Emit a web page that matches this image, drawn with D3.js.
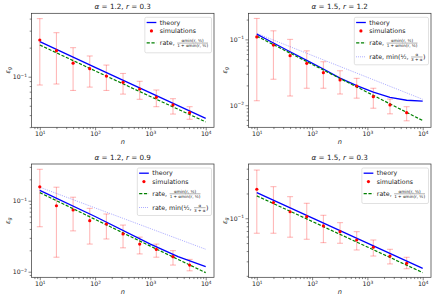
<!DOCTYPE html>
<html>
<head>
<meta charset="utf-8">
<script src="https://cdn.jsdelivr.net/npm/d3@7"></script>
<style>
    body { margin: 0; background: #fff; }
    svg text { font-family: "DejaVu Sans", sans-serif; fill: #222; white-space: pre; }
</style>
</head>
<body>
<div id="chart"></div>
<script>
// sample sizes of the simulations and the points used for the straight lines
const nSim = [10, 20, 40, 80, 160, 320, 640, 1280, 2560, 5120];
const nLine = [10, 100, 1000, 10000];
const nTheory2 = [10, 20, 40, 80, 160, 320, 640, 1280, 2560, 5120, 10000];
const nTheory3 = [10, 100, 1000, 3162, 10000];

// alpha = 1.2, r = 0.3
const p1Sim = [0.240, 0.186, 0.138, 0.121, 0.1016, 0.0875, 0.0746, 0.0612, 0.051, 0.0424];
const p1Lo = [0.082, 0.084, 0.072, 0.078, 0.072, 0.066, 0.0583, 0.0489, 0.041, 0.0362];
const p1Hi = [0.40, 0.286, 0.20, 0.164, 0.132, 0.108, 0.0896, 0.0728, 0.0592, 0.0489];
const p1Theory = [0.231, 0.125, 0.068, 0.037];
const p1Rate = [0.213, 0.115, 0.0623, 0.034];

// alpha = 1.5, r = 1.2
const p2Sim = [0.109, 0.082, 0.0565, 0.0433, 0.0312, 0.0242, 0.0196, 0.0135, 0.0101, 0.0077];
const p2Lo = [0.0117, 0.0248, 0.0138, 0.0181, 0.0181, 0.0148, 0.0128, 0.009, 0.0074, 0.0058];
const p2Hi = [0.208, 0.135, 0.100, 0.067, 0.0458, 0.0334, 0.0256, 0.0181, 0.0124, 0.0095];
const p2Theory = [0.12, 0.088, 0.065, 0.048, 0.0355, 0.0258, 0.0198, 0.0158, 0.0132, 0.0119, 0.0115];
const p2Rate = [0.112, 0.0418, 0.0157, 0.00585];
const p2MinRate = [0.123, 0.0571, 0.0265, 0.0123];

// alpha = 1.2, r = 0.9
const p3Sim = [0.157, 0.085, 0.074, 0.0523, 0.047, 0.034, 0.0245, 0.0206, 0.0163, 0.0124];
const p3Lo = [0.043, 0.016, 0.0376, 0.0245, 0.0289, 0.0217, 0.0178, 0.016, 0.0124, 0.0103];
const p3Hi = [0.277, 0.155, 0.112, 0.078, 0.065, 0.0454, 0.0307, 0.0245, 0.0198, 0.0149];
const p3Theory = [0.14, 0.06, 0.0245, 0.0163, 0.0118];
const p3Rate = [0.13, 0.0546, 0.0229, 0.0097];
const p3MinRate = [0.155, 0.0792, 0.0405, 0.0207];

// alpha = 1.5, r = 0.3
const p4Sim = [0.225, 0.155, 0.12, 0.1045, 0.0807, 0.0688, 0.0545, 0.0445, 0.0348, 0.0284];
const p4Lo = [0.0658, 0.0658, 0.0589, 0.0556, 0.0506, 0.0497, 0.0412, 0.0348, 0.0279, 0.0244];
const p4Hi = [0.385, 0.242, 0.183, 0.152, 0.1087, 0.0885, 0.0688, 0.0545, 0.042, 0.0336];
const p4Theory = [0.205, 0.101, 0.0499, 0.0247];
const p4Rate = [0.187, 0.0916, 0.0448, 0.0219];

const panels = [
    { alpha: "1.2", r: "0.3", x0: 31.5, x1: 214, y0: 13.3, y1: 127.3, yDom: [0.0299, 0.454],
      sim: p1Sim, lo: p1Lo, hi: p1Hi, thN: nLine, theory: p1Theory, rate: p1Rate, minRate: null },
    { alpha: "1.5", r: "1.2", x0: 248.5, x1: 431, y0: 13.3, y1: 127.3, yDom: [0.00462, 0.249],
      sim: p2Sim, lo: p2Lo, hi: p2Hi, thN: nTheory2, theory: p2Theory, rate: p2Rate, minRate: p2MinRate },
    { alpha: "1.2", r: "0.9", x0: 31.5, x1: 214, y0: 164, y1: 277.3, yDom: [0.00834, 0.329],
      sim: p3Sim, lo: p3Lo, hi: p3Hi, thN: nTheory3, theory: p3Theory, rate: p3Rate, minRate: p3MinRate },
    { alpha: "1.5", r: "0.3", x0: 248.5, x1: 431, y0: 164, y1: 277.3, yDom: [0.0192, 0.456],
      sim: p4Sim, lo: p4Lo, hi: p4Hi, thN: nLine, theory: p4Theory, rate: p4Rate, minRate: null }
];

const W = 435, H = 302;
const svg = d3.select("#chart").append("svg").attr("width", W).attr("height", H);

// write text made of pieces (plain, italic, small stacked fractions); returns width
function drawRich(g, x, y, parts, fs) {
    let cx = x;
    parts.forEach(p => {
        if (p.frac) {
            let fz = fs * 0.66;
            let axisY = y - fs * 0.32;
            let num = g.append("text").attr("y", axisY - 0.9).attr("font-size", fz).text(p.frac[0]);
            let den = g.append("text").attr("y", axisY + fz * 0.95).attr("font-size", fz).text(p.frac[1]);
            let w = Math.max(num.node().getComputedTextLength(), den.node().getComputedTextLength());
            num.attr("x", cx + 0.5 + w / 2).attr("text-anchor", "middle");
            den.attr("x", cx + 0.5 + w / 2).attr("text-anchor", "middle");
            g.append("line")
                .attr("x1", cx + 0.5).attr("x2", cx + 0.5 + w)
                .attr("y1", axisY).attr("y2", axisY)
                .attr("stroke", "#222").attr("stroke-width", 0.35);
            cx += w + 1;
        } else {
            let t = g.append("text").attr("x", cx).attr("y", y).attr("font-size", fs).text(p.t);
            if (p.it) t.attr("font-style", "italic");
            cx += t.node().getComputedTextLength();
        }
    });
    return cx - x;
}

function powLabels(sel) {
    sel.each(function (d) {
        let t = d3.select(this);
        let e = Math.round(Math.log10(d));
        t.text(null);
        t.append("tspan").text("10");
        t.append("tspan").attr("dy", "-0.55em").attr("font-size", "0.7em")
            .text(e < 0 ? "\u2212" + (-e) : e);
    });
}

function minorTicks(dom) {
    let out = [];
    let lo = Math.floor(Math.log10(dom[0])), hi = Math.ceil(Math.log10(dom[1]));
    for (let k = lo; k < hi; k++) {
        for (let m = 2; m <= 9; m++) {
            let v = m * Math.pow(10, k);
            if (v >= dom[0] && v <= dom[1]) out.push(v);
        }
    }
    return out;
}

function majorTicks(dom) {
    let out = [];
    for (let k = Math.ceil(Math.log10(dom[0])); k <= Math.floor(Math.log10(dom[1])); k++) out.push(Math.pow(10, k));
    return out;
}

const xDom = [Math.pow(10, 0.85), Math.pow(10, 4.15)];

panels.forEach(p => {
    let g = svg.append("g");
    let x = d3.scaleLog().domain(xDom).range([p.x0, p.x1]);
    let y = d3.scaleLog().domain(p.yDom).range([p.y1, p.y0]);

    // axes
    let xMinor = d3.axisBottom(x).tickValues(minorTicks(xDom)).tickSize(1.8).tickFormat("");
    let xMajor = d3.axisBottom(x).tickValues(majorTicks(xDom)).tickSize(3).tickPadding(1.5);
    let yMinor = d3.axisLeft(y).tickValues(minorTicks(p.yDom)).tickSize(1.8).tickFormat("");
    let yMajor = d3.axisLeft(y).tickValues(majorTicks(p.yDom)).tickSize(3).tickPadding(1.5);

    [[xMinor, "x"], [xMajor, "x"], [yMinor, "y"], [yMajor, "y"]].forEach(([ax, k]) => {
        let a = g.append("g")
            .attr("transform", k === "x" ? `translate(0,${p.y1})` : `translate(${p.x0},0)`)
            .call(ax);
        a.select(".domain").remove();
        a.selectAll("line").attr("stroke", "#333").attr("stroke-width", 0.6);
        a.selectAll("text").attr("font-size", 6.2).attr("fill", "#222")
            .attr("font-family", "DejaVu Sans");
    });
    g.selectAll("text").filter(function () { return this.textContent !== ""; }).call(powLabels);

    // error bars
    let err = g.append("g").attr("stroke", "#ff0000").attr("stroke-opacity", 0.28).attr("stroke-width", 1.1);
    nSim.forEach((n, i) => {
        let cx = x(n);
        err.append("line").attr("x1", cx).attr("x2", cx).attr("y1", y(p.lo[i])).attr("y2", y(p.hi[i]));
        err.append("line").attr("x1", cx - 3).attr("x2", cx + 3).attr("y1", y(p.lo[i])).attr("y2", y(p.lo[i]));
        err.append("line").attr("x1", cx - 3).attr("x2", cx + 3).attr("y1", y(p.hi[i])).attr("y2", y(p.hi[i]));
    });

    let line = d3.line().x(d => x(d[0])).y(d => y(d[1]));

    if (p.minRate) {
        g.append("path")
            .attr("d", line(d3.zip(nLine, p.minRate)))
            .attr("fill", "none").attr("stroke", "#0000ff").attr("stroke-opacity", 0.5)
            .attr("stroke-width", 0.8).attr("stroke-dasharray", "0.8,1.2");
    }
    g.append("path")
        .attr("d", line(d3.zip(p.thN, p.theory)))
        .attr("fill", "none").attr("stroke", "#0000ff").attr("stroke-width", 1.3);
    g.append("path")
        .attr("d", line(d3.zip(nLine, p.rate)))
        .attr("fill", "none").attr("stroke", "#008000").attr("stroke-width", 1.2)
        .attr("stroke-dasharray", "3.2,1.6");

    g.selectAll(".sim").data(d3.zip(nSim, p.sim)).join("circle")
        .attr("class", "sim")
        .attr("cx", d => x(d[0])).attr("cy", d => y(d[1])).attr("r", 1.6)
        .attr("fill", "#ff0000");

    // frame
    g.append("rect")
        .attr("x", p.x0).attr("y", p.y0)
        .attr("width", p.x1 - p.x0).attr("height", p.y1 - p.y0)
        .attr("fill", "none").attr("stroke", "#333").attr("stroke-width", 0.7);

    // title
    let tg = g.append("g");
    let tw = drawRich(tg, 0, 0, [
        { t: "\u03b1", it: true }, { t: " = " + p.alpha + ", " },
        { t: "r", it: true }, { t: " = " + p.r }
    ], 7.2);
    tg.attr("transform", `translate(${(p.x0 + p.x1) / 2 - tw / 2},${p.y0 - 4.5})`);

    // axis labels
    g.append("text")
        .attr("x", (p.x0 + p.x1) / 2).attr("y", p.y1 + 17)
        .attr("text-anchor", "middle").attr("font-size", 6.6).attr("font-style", "italic")
        .text("n");
    let yl = g.append("text")
        .attr("transform", `translate(${p.x0 - 22},${(p.y0 + p.y1) / 2}) rotate(-90)`)
        .attr("text-anchor", "middle").attr("font-size", 6.6);
    yl.append("tspan").attr("font-style", "italic").text("\u03b5");
    yl.append("tspan").attr("dy", 1.6).attr("font-size", 4.8).attr("font-style", "italic").text("g");

    // legend
    let lg = g.append("g");
    let box = lg.append("rect").attr("fill", "#fff").attr("fill-opacity", 0.85)
        .attr("stroke", "#ccc").attr("stroke-width", 0.6).attr("rx", 1.5);
    let bx = 0, fs = 6.3;
    let rows = [5.2, 13.6, 25.6, 39.5];
    let widths = [];
    let tx = bx + 15;

    lg.append("line").attr("x1", bx + 1.8).attr("x2", bx + 11.5).attr("y1", rows[0]).attr("y2", rows[0])
        .attr("stroke", "#0000ff").attr("stroke-width", 1.3);
    widths.push(drawRich(lg, tx, rows[0] + 2.2, [{ t: "theory" }], fs));

    lg.append("circle").attr("cx", bx + 6.6).attr("cy", rows[1]).attr("r", 1.6).attr("fill", "#ff0000");
    widths.push(drawRich(lg, tx, rows[1] + 2.2, [{ t: "simulations" }], fs));

    lg.append("line").attr("x1", bx + 1.8).attr("x2", bx + 11.5).attr("y1", rows[2]).attr("y2", rows[2])
        .attr("stroke", "#008000").attr("stroke-width", 1.2).attr("stroke-dasharray", "3.2,1.6");
    widths.push(drawRich(lg, tx, rows[2] + 2.2, [
        { t: "rate, " },
        { frac: ["\u03b1min(r, \u00bd)", "1 + \u03b1min(r, \u00bd)"] }
    ], fs));

    let bh = 35.5;
    if (p.minRate) {
        lg.append("line").attr("x1", bx + 1.8).attr("x2", bx + 11.5).attr("y1", rows[3]).attr("y2", rows[3])
            .attr("stroke", "#0000ff").attr("stroke-opacity", 0.5)
            .attr("stroke-width", 0.8).attr("stroke-dasharray", "0.8,1.2");
        widths.push(drawRich(lg, tx, rows[3] + 2.2, [
            { t: "rate, min(\u00bd, " },
            { frac: ["\u03b1", "3 + \u03b1"] },
            { t: ")" }
        ], fs));
        bh = 47.5;
    }
    let bw = 15 + d3.max(widths) + 3;
    box.attr("x", 0).attr("y", 0).attr("width", bw).attr("height", bh);
    lg.attr("transform", `translate(${p.x1 - 2.5 - bw},${p.y0 + 4})`);
});
</script>
</body>
</html>
